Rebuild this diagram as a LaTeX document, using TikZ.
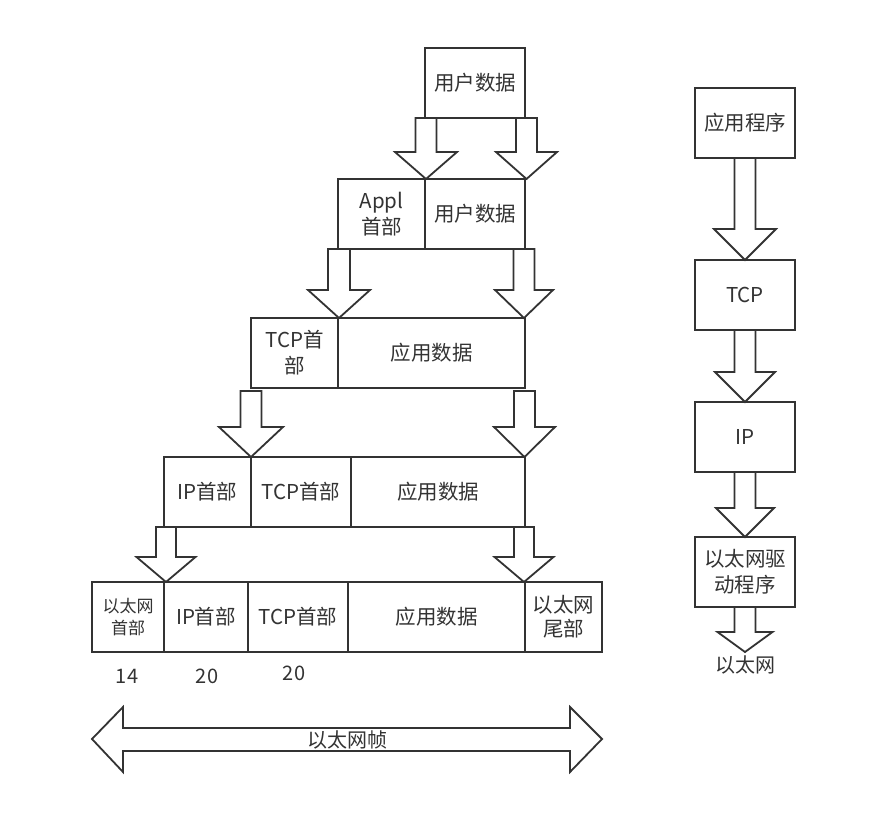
\documentclass[tikz,border=0pt]{standalone}
\usepackage{fontspec}
\newfontfamily\cjk{Noto Sans CJK SC}
\definecolor{lc}{HTML}{333333}
\definecolor{tc}{HTML}{333333}
\newcommand\blkdown[6]{%
  \draw[blk] ({#1-#5},#2) -- ({#1-#5},#3) -- ({#1-#6},#3) -- (#1,#4) --
    ({#1+#6},#3) -- ({#1+#5},#3) -- ({#1+#5},#2) -- cycle;}
\begin{document}
\begin{tikzpicture}[x=1pt,y=-1pt,
  box/.style={draw=lc, line width=1.8pt, inner sep=0pt, align=center, text=tc,
    font=\cjk\fontsize{20.5}{26}\selectfont},
  sbox/.style={box, font=\cjk\fontsize{17}{22}\selectfont},
  lbl/.style={inner sep=0pt, text=tc, font=\cjk\fontsize{20}{24}\selectfont},
  blk/.style={draw=lc, line width=1.8pt, fill=white, line join=miter}]
\useasboundingbox (0,0) rectangle (887,833);
\fill[white] (0,0) rectangle (887,833);

% row 1
\node[box, minimum width=100pt, minimum height=70pt] (r1a) at (475,83) {用户数据};
% row 2
\node[box, minimum width=87pt, minimum height=70pt] (r2a) at (381.5,214) {Appl\\首部};
\node[box, minimum width=100pt, minimum height=70pt] (r2b) at (475,214) {用户数据};
% row 3
\node[box, minimum width=87pt, minimum height=70pt] (r3a) at (294.5,353) {TCP首\\部};
\node[box, minimum width=187pt, minimum height=70pt] (r3b) at (431.5,353) {应用数据};
% row 4
\node[box, minimum width=87pt, minimum height=70pt] (r4a) at (207.5,492) {IP首部};
\node[box, minimum width=100pt, minimum height=70pt] (r4b) at (301,492) {TCP首部};
\node[box, minimum width=174pt, minimum height=70pt] (r4c) at (438,492) {应用数据};
% row 5
\node[sbox, minimum width=72pt, minimum height=70pt] (r5a) at (128,617) {以太网\\首部};
\node[box, minimum width=84pt, minimum height=70pt] (r5b) at (206,617) {IP首部};
\node[box, minimum width=100pt, minimum height=70pt] (r5c) at (298,617) {TCP首部};
\node[box, minimum width=177pt, minimum height=70pt] (r5d) at (436.5,617) {应用数据};
\node[box, minimum width=77pt, minimum height=70pt] (r5e) at (563.5,617) {以太网\\[-2pt]尾部};

% sizes
\node[lbl] (n14) at (127,676) {14};
\node[lbl] (n20a) at (207,676) {20};
\node[lbl] (n20b) at (294,673) {20};

% block arrows between rows
\blkdown{426}{118}{152}{179}{10.5}{31}
\blkdown{526.5}{118}{152}{179}{10.5}{30.5}
\blkdown{339}{249}{290}{318}{11}{31}
\blkdown{524}{249}{290}{318}{10.5}{29}
\blkdown{251}{391}{427}{457}{10.5}{32}
\blkdown{524.5}{391}{427}{457}{10.5}{30.5}
\blkdown{166}{527}{557}{582}{10}{29.5}
\blkdown{524}{527}{557}{582}{10}{29.5}

% frame double arrow
\draw[blk] (92,739) -- (123,707) -- (123,728) -- (570,728) -- (570,707) -- (602,739)
  -- (570,772) -- (570,751) -- (123,751) -- (123,772) -- cycle;
\node[lbl] (frame) at (347,740) {以太网帧};

% right column
\node[box, minimum width=100pt, minimum height=70pt] (app) at (745,123) {应用程序};
\node[box, minimum width=100pt, minimum height=70pt] (tcp) at (745,295) {TCP};
\node[box, minimum width=100pt, minimum height=70pt] (ip) at (745,437) {IP};
\node[box, minimum width=100pt, minimum height=70pt] (drv) at (745,572) {以太网驱\\动程序};
\node[lbl] (eth) at (745,665) {以太网};

\blkdown{745}{158}{229}{260}{10.5}{31}
\blkdown{745}{330}{372}{402}{10.5}{30}
\blkdown{745}{472}{508}{537}{10.5}{29}
\blkdown{745}{607}{632}{652}{10.5}{27.5}
\end{tikzpicture}
\end{document}
